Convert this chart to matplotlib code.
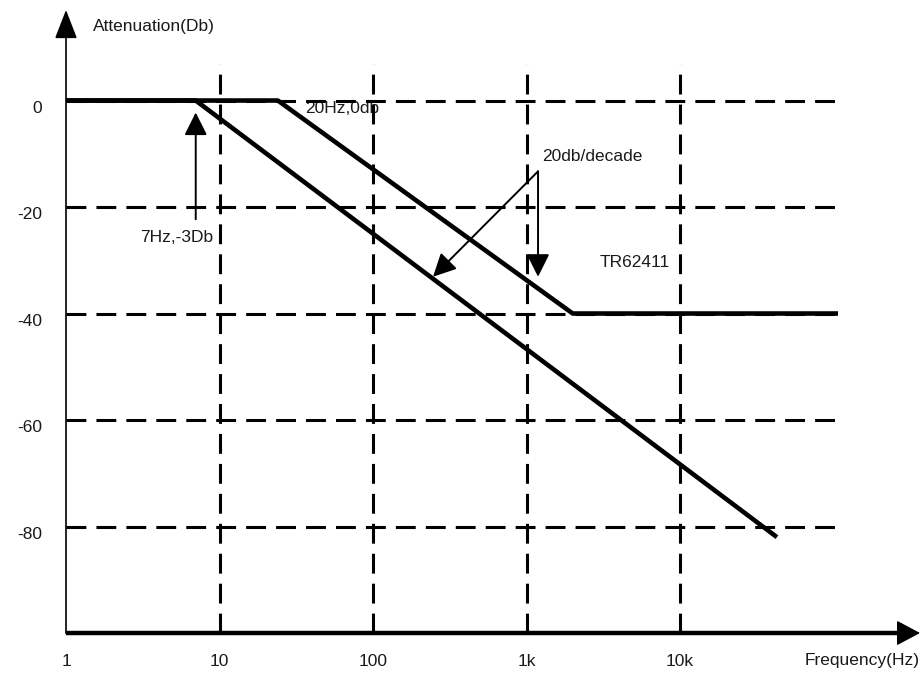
import numpy as np
import matplotlib.pyplot as plt
from matplotlib.ticker import NullLocator

plt.rcParams['font.family'] = ['Liberation Sans Narrow', 'Liberation Sans', 'DejaVu Sans']
plt.rcParams['font.size'] = 12.5

# axis ticks
freq_ticks = [1, 10, 100, 1000, 10000]
freq_labels = ['1', '10', '100', '1k', '10k']
db_ticks = [0, -20, -40, -60, -80]

# TR62411 mask: flat to ~24 Hz, -20 dB/decade down to -40 dB, then flat
tr_freq = [1, 24, 2000, 107000]
tr_db = [0, 0, -40, -40]

# 7 Hz corner curve
corner_freq = [1, 7, 42800]
corner_db = [0, 0, -82]

# extent of the dashed grid
grid_f_end = 107000
grid_db_top = 6.8

ink = '#1a1a1a'

fig = plt.figure(figsize=(9.22, 6.77), dpi=100)
ax = fig.add_axes([66 / 922, 44 / 677, 854 / 922, 623 / 677])
ax.set_xscale('log')
ax.set_xlim(1, 10 ** (854 / 153.5))
ax.set_ylim(-100, 17)

# dashed grid
dash = (6.5, 3.3)
for f in freq_ticks[1:]:
    ax.plot([f, f], [-100, grid_db_top], color='k', lw=2.2, dashes=dash, zorder=2)
for d in db_ticks:
    ax.plot([1, grid_f_end], [d, d], color='k', lw=2.2, dashes=dash, zorder=2)

# text sits under the curves
ax.text(1.5, 13.9, 'Attenuation(Db)', ha='left', va='center', color=ink, zorder=1)
ax.text(36, -1.5, '20Hz,0db', ha='left', va='center', color=ink, zorder=1)
ax.text(3.03, -25.7, '7Hz,-3Db', ha='left', va='center', color=ink, zorder=1)
ax.text(1262, -10.5, '20db/decade', ha='left', va='center', color=ink, zorder=1)
ax.text(3013, -30.4, 'TR62411', ha='left', va='center', color=ink, zorder=1)

# the two response curves
ax.plot(tr_freq, tr_db, color='k', lw=3.3, solid_capstyle='butt', zorder=3)
ax.plot(corner_freq, corner_db, color='k', lw=3.3, solid_capstyle='butt', zorder=3)

# callout arrows
head = dict(arrowstyle='-|>,head_length=0.7,head_width=0.35', mutation_scale=20,
            color='k', lw=1.4, shrinkA=0, shrinkB=0)
ax.annotate('', xy=(7, -2.25), xytext=(7, -22.3), arrowprops=head, zorder=4)
ax.annotate('', xy=(246, -33.1), xytext=(1189, -13.3), arrowprops=head, zorder=4)
ax.annotate('', xy=(1189, -33.1), xytext=(1189, -13.3), arrowprops=head, zorder=4)

# axes with arrow heads
for s in ['top', 'right']:
    ax.spines[s].set_visible(False)
ax.spines['left'].set_linewidth(1.2)
ax.spines['bottom'].set_linewidth(3.2)
ax.spines['bottom'].set_capstyle('butt')
ax.spines['bottom'].set_bounds(1, 10 ** ((905 - 66) / 153.5))
ax.spines['left'].set_bounds(-100, 13.0)
ax.annotate('', xy=(0, 1), xytext=(0, 0.965), xycoords='axes fraction',
            arrowprops=dict(arrowstyle='-|>,head_length=0.9,head_width=0.35',
                            mutation_scale=20, color='k', lw=1.2,
                            shrinkA=0, shrinkB=0), annotation_clip=False)
ax.annotate('', xy=(1, 0), xytext=(0.98, 0), xycoords='axes fraction',
            arrowprops=dict(arrowstyle='-|>,head_length=0.75,head_width=0.4',
                            mutation_scale=20, color='k', lw=1.0,
                            shrinkA=0, shrinkB=0), annotation_clip=False)

ax.set_xticks(freq_ticks, freq_labels)
ax.xaxis.set_minor_locator(NullLocator())
ax.set_yticks(db_ticks, [str(v) for v in db_ticks])
ax.tick_params(axis='x', length=0, pad=15, colors=ink)
ax.tick_params(axis='y', length=0, pad=17, colors=ink)
for lbl in ax.get_yticklabels():
    lbl.set_va('top')

ax.annotate('Frequency(Hz)', xy=(1, 0), xycoords='axes fraction',
            xytext=(0, -28), textcoords='offset pixels', ha='right', va='center',
            color=ink)

fig.savefig('out.png', dpi=100)
